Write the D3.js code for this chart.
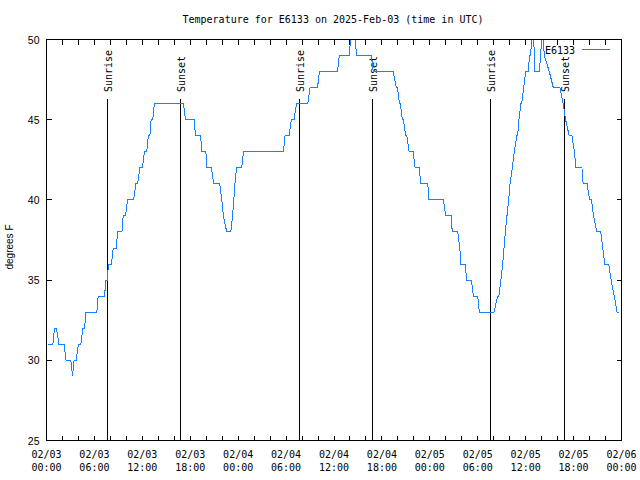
<!DOCTYPE html>
<html>
<head>
<meta charset="utf-8">
<script src="https://cdn.jsdelivr.net/npm/d3@7"></script>
<style>
  body { margin: 0; background: #fff; }
  svg { display: block; }
</style>
</head>
<body>
<script>
// ---- data (hours since 02/03 00:00 UTC, temperature in degrees F) ----
const hours = [
  0.25, 0.8, 1.0, 1.25, 1.55, 2.2, 2.45, 3.05, 3.26, 3.45, 3.7, 4.0, 4.3, 4.55, 4.77, 4.93,
  6.3, 6.47, 7.27, 7.43, 7.6, 7.76, 8.14, 8.35, 8.75, 8.89, 9.45, 9.6, 9.9, 10.14, 10.9, 11.2,
  11.4, 11.7, 12.0, 12.27, 12.55, 12.75, 12.95, 13.1, 13.3, 13.5, 17.15, 17.4, 18.5, 18.65,
  19.3, 19.45, 19.95, 20.1, 20.65, 20.95, 21.7, 21.95, 22.15, 22.57, 23.08, 23.3, 23.45, 23.6,
  23.8, 24.45, 24.66, 29.66, 29.87, 30.37, 30.65, 31.0, 31.3, 32.72, 33.0, 33.94, 34.17, 36.43,
  36.67, 37.89, 38.3, 38.4, 38.85, 40.7, 40.9, 43.4, 43.8, 43.95, 44.2, 44.32, 44.55, 44.7, 44.98,
  45.12, 45.4, 45.9, 46.15,
  46.65, 46.9, 47.74, 47.9, 49.7, 50.0, 50.7, 50.8, 51.5, 51.75, 51.9, 52.45, 52.6, 53.2, 53.45,
  54.0, 54.2, 56.03, 56.5, 56.65, 56.9, 57.12, 57.29, 57.45, 57.66, 57.87, 58.04, 58.33, 58.57, 58.9,
  59.0, 59.15, 59.4, 59.5, 59.75, 60.0, 60.3, 60.5, 60.6, 60.93, 61.17, 61.7, 61.88, 62.1, 62.33, 62.96, 63.46,
  64.3, 64.7, 65.0, 65.45, 65.8, 66.1, 66.3, 67.05, 67.2, 67.7, 68.0, 68.25, 68.5, 68.9, 69.4,
  69.65, 69.9, 70.4, 70.7, 71.1, 71.45, 71.65
];
const temps = [
  31, 31, 32, 32, 31, 31, 30, 30, 29, 30, 30, 31, 31, 32, 32, 33,
  33, 34, 34, 35, 35, 36, 36, 37, 37, 38, 38, 39, 39, 40, 40, 41,
  41, 42, 42, 43, 43, 44, 44, 45, 45, 46, 46, 45, 45, 44,
  44, 43, 43, 42, 42, 41, 41, 40, 39, 38, 38, 39, 40, 41,
  42, 42, 43, 43, 44, 44, 45, 45, 46, 46, 47, 47, 48, 48,
  49, 49, 51, 51, 49, 49, 48, 48, 47, 47, 46, 46, 45, 45, 44,
  44, 43, 43, 42,
  42, 41, 41, 40, 40, 39, 39, 38, 38, 37, 36, 36, 35, 35, 34,
  34, 33, 33, 34, 34, 35, 36, 37, 38, 39, 40, 41, 42, 43, 44,
  44, 45, 46, 46, 47, 48, 48, 49, 49, 51, 48, 48, 49, 51, 49, 48, 47,
  47, 46, 45, 44, 44, 43, 42, 42, 41, 41, 40, 40, 39, 38, 38,
  37, 36, 36, 35, 34, 33, 33
];
const eventLabels = ["Sunrise", "Sunset", "Sunrise", "Sunset", "Sunrise", "Sunset"];
const eventHours = [7.68, 16.77, 31.66, 40.8, 55.63, 64.83];
const tickHours = [0, 6, 12, 18, 24, 30, 36, 42, 48, 54, 60, 66, 72];
const tickDates = ["02/03", "02/03", "02/03", "02/03", "02/04", "02/04", "02/04", "02/04", "02/05", "02/05", "02/05", "02/05", "02/06"];
const tickTimes = ["00:00", "06:00", "12:00", "18:00", "00:00", "06:00", "12:00", "18:00", "00:00", "06:00", "12:00", "18:00", "00:00"];
const minorTickHours = d3.range(0, 73, 2).filter(h => h % 6 !== 0);
const yTicks = [25, 30, 35, 40, 45, 50];
const seriesName = "E6133";
const titleText = "Temperature for E6133 on 2025-Feb-03 (time in UTC)";
const yTitle = "degrees F";

// ---- layout ----
const W = 640, H = 480;
const L = 46.5, R = 621.5, T = 39.5, B = 440.5;
const mono = "'DejaVu Sans Mono', monospace";
const sans = "'Liberation Sans', Arial, sans-serif";
const lineColor = "#1482ff";

const svg = d3.select("body").append("svg").attr("width", W).attr("height", H);
svg.append("rect").attr("width", W).attr("height", H).attr("fill", "#fff");

const x = d3.scaleLinear().domain([0, 72]).range([L, R]);
const y = d3.scaleLinear().domain([25, 50]).range([B, T]);

svg.append("defs").append("clipPath").attr("id", "plotclip")
  .append("rect").attr("x", L).attr("y", T).attr("width", R - L).attr("height", B - T);

// title
svg.append("text").attr("x", 333).attr("y", 23).attr("text-anchor", "middle")
  .attr("font-family", mono).attr("font-size", 10).attr("fill", "#000").text(titleText);

// y title
svg.append("text").attr("transform", "translate(13,247) rotate(-90)")
  .attr("text-anchor", "middle").attr("font-family", sans).attr("font-size", 10)
  .attr("fill", "#000").text(yTitle);

// ticks (inward) on all four sides
const tickLen = 5;
const gTicks = svg.append("g").attr("stroke", "#000").attr("stroke-width", 1).attr("shape-rendering", "crispEdges");
const allX = tickHours.concat(minorTickHours);
allX.forEach(h => {
  gTicks.append("line").attr("x1", x(h)).attr("x2", x(h)).attr("y1", B).attr("y2", B - tickLen);
  gTicks.append("line").attr("x1", x(h)).attr("x2", x(h)).attr("y1", T).attr("y2", T + tickLen);
});
yTicks.forEach(v => {
  gTicks.append("line").attr("x1", L).attr("x2", L + tickLen).attr("y1", y(v)).attr("y2", y(v));
  gTicks.append("line").attr("x1", R).attr("x2", R - tickLen).attr("y1", y(v)).attr("y2", y(v));
});

// y tick labels via axis generator (labels only)
const yAxis = d3.axisLeft(y).tickValues(yTicks).tickSize(0).tickPadding(0).tickFormat(d3.format("d"));
const gy = svg.append("g").attr("transform", `translate(${L - 7},0)`).call(yAxis);
gy.select(".domain").remove();
gy.selectAll("text").attr("font-family", sans).attr("font-size", 10.5).attr("fill", "#000").attr("dy", "0.35em");

// x tick labels (two lines)
const gx = svg.append("g");
tickHours.forEach((h, i) => {
  const t = gx.append("text").attr("x", x(h)).attr("text-anchor", "middle")
    .attr("font-family", mono).attr("font-size", 10).attr("fill", "#000");
  t.append("tspan").attr("x", x(h)).attr("y", 458).text(tickDates[i]);
  t.append("tspan").attr("x", x(h)).attr("y", 471).text(tickTimes[i]);
});

// sunrise / sunset markers
const gE = svg.append("g");
eventHours.forEach((h, i) => {
  gE.append("line").attr("x1", x(h)).attr("x2", x(h)).attr("y1", 99).attr("y2", B)
    .attr("stroke", "#000").attr("stroke-width", 1).attr("shape-rendering", "crispEdges");
  gE.append("text").attr("transform", `translate(${x(h) + 4.5},92) rotate(-90)`)
    .attr("text-anchor", "start").attr("font-family", mono).attr("font-size", 10)
    .attr("fill", "#000").text(eventLabels[i]);
});

// data line
const pts = hours.map((h, i) => [h, temps[i]]);
const line = d3.line().x(d => x(d[0])).y(d => y(d[1]));
svg.append("path").datum(pts).attr("d", line).attr("clip-path", "url(#plotclip)")
  .attr("fill", "none").attr("stroke", lineColor).attr("stroke-width", 1)
  .attr("shape-rendering", "crispEdges");

// legend
svg.append("text").attr("x", 575).attr("y", 53.5).attr("text-anchor", "end")
  .attr("font-family", mono).attr("font-size", 10).attr("fill", "#000").text(seriesName);
svg.append("line").attr("x1", 582).attr("x2", 610).attr("y1", 49.5).attr("y2", 49.5)
  .attr("stroke", lineColor).attr("stroke-width", 1).attr("shape-rendering", "crispEdges");

// border
svg.append("rect").attr("x", L).attr("y", T).attr("width", R - L).attr("height", B - T)
  .attr("fill", "none").attr("stroke", "#000").attr("stroke-width", 1).attr("shape-rendering", "crispEdges");
</script>
</body>
</html>
